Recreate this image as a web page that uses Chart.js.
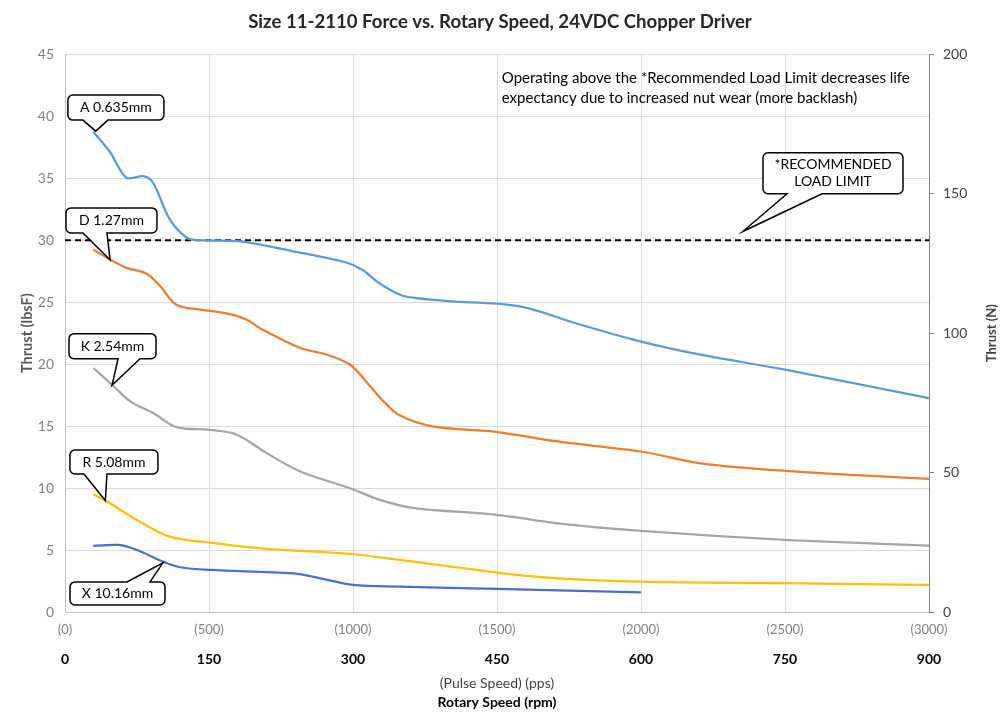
<!DOCTYPE html>
<html>
<head>
<meta charset="utf-8">
<script src="https://cdn.jsdelivr.net/npm/chart.js@4"></script>
<style>
  body { margin: 0; background: #fff; }
  #wrap { width: 1000px; height: 722px; }
</style>
</head>
<body>
<div id="wrap"><canvas id="chart" width="1000" height="722"></canvas></div>
<script>
// series, rotary speed (rpm) vs thrust (lbf)
const rpmA = [29.5, 47, 64, 82, 92, 109, 127, 141, 182, 238, 293, 310, 327, 349, 364, 402, 450, 483, 532, 599, 662, 750, 900];
const thrustA = [38.75, 37.1, 35.04, 35.17, 34.6, 31.7, 30.2, 30.0, 29.9, 29.1, 28.2, 27.6, 26.55, 25.6, 25.34, 25.07, 24.88, 24.5, 23.3, 21.84, 20.76, 19.55, 17.26];

const rpmD = [29.5, 47, 64, 85, 99, 116, 141, 168, 189, 203, 245, 273, 297, 318, 333, 349, 383, 450, 513, 600, 662, 750, 900];
const thrustD = [29.25, 28.44, 27.77, 27.3, 26.3, 24.8, 24.4, 24.1, 23.6, 22.9, 21.3, 20.76, 19.95, 18.2, 16.9, 15.85, 14.97, 14.52, 13.76, 12.95, 12.0, 11.39, 10.74];

const rpmK = [29.5, 49, 68, 92, 116, 151, 179, 210, 245, 297, 328, 364, 450, 513, 600, 750, 900];
const thrustK = [19.69, 18.34, 17.0, 16.05, 14.92, 14.7, 14.3, 12.82, 11.34, 9.99, 9.05, 8.38, 7.84, 7.16, 6.54, 5.82, 5.36];

const rpmR = [29.5, 42, 75, 109, 151, 203, 300, 349, 450, 513, 600, 750, 900];
const thrustR = [9.5, 9.0, 7.43, 6.08, 5.6, 5.14, 4.66, 4.2, 3.18, 2.72, 2.45, 2.32, 2.18];

const rpmX = [29.5, 55.5, 75, 102, 120, 151, 238, 266, 300, 349, 450, 600];
const thrustX = [5.33, 5.41, 5.0, 4.07, 3.61, 3.39, 3.12, 2.72, 2.18, 2.05, 1.86, 1.59];

const limitRpm = [0, 900];
const limitThrust = [30, 30];

const seriesNames = ['A 0.635mm', 'D 1.27mm', 'K 2.54mm', 'R 5.08mm', 'X 10.16mm'];
const seriesColors = ['#5B9BD5', '#ED7D31', '#A5A5A5', '#FFC000', '#4472C4'];

// axis ticks
const rpmTicks = [0, 150, 300, 450, 600, 750, 900];
const ppsTicks = [0, 500, 1000, 1500, 2000, 2500, 3000];
const lbfTicks = [0, 5, 10, 15, 20, 25, 30, 35, 40, 45];
const newtonTicks = [0, 50, 100, 150, 200];

const noteLines = ['Operating above the *Recommended Load Limit decreases life',
  'expectancy due to increased nut wear (more backlash)'];

// callouts: box centre and pointer tip in data units (rpm, lbf)
const callouts = [
  { lines: ['A 0.635mm'], at: [53, 40.7], w: 96, h: 25, side: 'bottom', base: [-33, -8], tip: [32, 38.8] },
  { lines: ['D 1.27mm'], at: [48.4, 31.6], w: 91, h: 25, side: 'bottom', base: [-28.5, -4.5], tip: [47, 28.4] },
  { lines: ['K 2.54mm'], at: [49.5, 21.45], w: 87, h: 25, side: 'bottom', base: [5.5, 27.5], tip: [49, 18.3] },
  { lines: ['R 5.08mm'], at: [51, 12.1], w: 88, h: 24, side: 'bottom', base: [-30, -7], tip: [42, 9.0] },
  { lines: ['X 10.16mm'], at: [54.7, 1.5], w: 95, h: 23, side: 'top', base: [9.5, 32.5], tip: [102, 3.96] },
  { lines: ['*RECOMMENDED', 'LOAD LIMIT'], at: [800, 35.4], w: 140, h: 41, side: 'bottom', base: [-46, -11], tip: [706, 30.7] }
];

const toPoints = (xs, ys) => xs.map((x, i) => ({ x: x, y: ys[i] }));

const FONT = 'Lato, "Open Sans", sans-serif';
Chart.defaults.font.family = FONT;

function bubble(ctx, l, t, w, h, r, side, b0, b1, tx, ty) {
  const rr = l + w, bb = t + h;
  ctx.beginPath();
  ctx.moveTo(l + r, t);
  if (side === 'top') { ctx.lineTo(b0, t); ctx.lineTo(tx, ty); ctx.lineTo(b1, t); }
  ctx.lineTo(rr - r, t);
  ctx.arcTo(rr, t, rr, t + r, r);
  ctx.lineTo(rr, bb - r);
  ctx.arcTo(rr, bb, rr - r, bb, r);
  if (side === 'bottom') { ctx.lineTo(b1, bb); ctx.lineTo(tx, ty); ctx.lineTo(b0, bb); }
  ctx.lineTo(l + r, bb);
  ctx.arcTo(l, bb, l, bb - r, r);
  ctx.lineTo(l, t + r);
  ctx.arcTo(l, t, l + r, t, r);
  ctx.closePath();
  ctx.fillStyle = '#fff';
  ctx.fill();
  ctx.lineWidth = 1.5;
  ctx.strokeStyle = '#000';
  ctx.stroke();
}

const extras = {
  id: 'extras',
  afterDatasetsDraw(chart) {
    const ctx = chart.ctx;
    const xs = chart.scales.x, ys = chart.scales.y;
    ctx.save();
    callouts.forEach(c => {
      const cx = xs.getPixelForValue(c.at[0]);
      const cy = ys.getPixelForValue(c.at[1]);
      const tx = xs.getPixelForValue(c.tip[0]);
      const ty = ys.getPixelForValue(c.tip[1]);
      bubble(ctx, cx - c.w / 2, cy - c.h / 2, c.w, c.h, 5, c.side, cx + c.base[0], cx + c.base[1], tx, ty);
      ctx.fillStyle = '#000';
      ctx.font = '14px ' + FONT;
      ctx.textAlign = 'center';
      ctx.textBaseline = 'middle';
      const lh = 17;
      c.lines.forEach((s, i) => {
        ctx.fillText(s, cx, cy + (i - (c.lines.length - 1) / 2) * lh);
      });
    });
    // note text
    ctx.font = '15px ' + FONT;
    ctx.textAlign = 'left';
    ctx.textBaseline = 'middle';
    ctx.fillStyle = '#000';
    const nx = xs.getPixelForValue(455);
    const ny = ys.getPixelForValue(43.1);
    noteLines.forEach((s, i) => ctx.fillText(s, nx, ny + i * 20));
    // right axis title, reading upward
    ctx.translate(chart.scales.y2.right - 8, (chart.chartArea.top + chart.chartArea.bottom) / 2);
    ctx.rotate(-Math.PI / 2);
    ctx.font = 'bold 13px ' + FONT;
    ctx.textAlign = 'center';
    ctx.fillStyle = '#404040';
    ctx.fillText('Thrust (N)', 0, 0);
    ctx.restore();
  }
};

const datasets = [
  [rpmA, thrustA], [rpmD, thrustD], [rpmK, thrustK], [rpmR, thrustR], [rpmX, thrustX]
].map((s, i) => ({
  label: seriesNames[i],
  data: toPoints(s[0], s[1]),
  borderColor: seriesColors[i],
  backgroundColor: seriesColors[i],
  borderWidth: 2.25,
  pointRadius: 0,
  tension: 0.33,
  xAxisID: 'x',
  yAxisID: 'y'
}));

datasets.push({
  label: 'Recommended Load Limit',
  data: toPoints(limitRpm, limitThrust),
  borderColor: '#000',
  borderWidth: 2,
  borderDash: [6, 4],
  pointRadius: 0,
  xAxisID: 'x',
  yAxisID: 'y'
});

new Chart(document.getElementById('chart'), {
  type: 'line',
  data: { datasets: datasets },
  options: {
    responsive: false,
    animation: false,
    devicePixelRatio: 1,
    layout: { padding: 0 },
    plugins: {
      legend: { display: false },
      tooltip: { enabled: false },
      title: {
        display: true,
        text: 'Size 11-2110 Force vs. Rotary Speed, 24VDC Chopper Driver',
        color: '#262626',
        font: { size: 18.6, weight: 'bold' },
        padding: { top: 11, bottom: 21 }
      }
    },
    scales: {
      pps: {
        type: 'linear',
        position: 'bottom',
        weight: 0,
        min: 0,
        max: 3000,
        afterBuildTicks: s => { s.ticks = ppsTicks.map(v => ({ value: v })); },
        afterFit: s => { s.height = 30; },
        grid: { color: '#d9d9d9', drawTicks: false },
        border: { color: '#bfbfbf' },
        ticks: { color: '#808080', font: { size: 13 }, padding: 10, callback: v => '(' + v + ')' }
      },
      x: {
        type: 'linear',
        position: 'bottom',
        weight: 1,
        min: 0,
        max: 900,
        afterBuildTicks: s => { s.ticks = rpmTicks.map(v => ({ value: v })); },
        afterFit: s => { s.height = 50; },
        grid: { display: false },
        border: { display: false },
        ticks: { color: '#000', font: { size: 14, weight: 'bold' }, padding: 1 },
        title: { display: true, text: '(Pulse Speed) (pps)', color: '#404040', font: { size: 14 }, padding: { top: 0, bottom: 0 } }
      },
      xt: {
        type: 'linear',
        position: 'bottom',
        weight: 2,
        min: 0,
        max: 1,
        afterFit: s => { s.height = 30; },
        grid: { display: false },
        border: { display: false },
        ticks: { display: false },
        title: { display: true, text: 'Rotary Speed (rpm)', color: '#000', font: { size: 14, weight: 'bold' }, padding: { top: 0, bottom: 11 } }
      },
      y: {
        type: 'linear',
        position: 'left',
        min: 0,
        max: 45,
        afterBuildTicks: s => { s.ticks = lbfTicks.map(v => ({ value: v })); },
        afterFit: s => { s.width = 65; },
        grid: { color: '#d9d9d9', drawTicks: false },
        border: { color: '#bfbfbf' },
        ticks: { color: '#808080', font: { size: 14 }, padding: 11 },
        title: { display: true, text: 'Thrust (lbsF)', color: '#595959', font: { size: 14.5, weight: 'bold' }, padding: { top: 19, bottom: 0 } }
      },
      y2: {
        type: 'linear',
        position: 'right',
        min: 0,
        max: 200,
        afterBuildTicks: s => { s.ticks = newtonTicks.map(v => ({ value: v })); },
        afterFit: s => { s.width = 71; },
        grid: { drawOnChartArea: false, drawTicks: true, tickLength: 5, color: '#808080' },
        border: { color: '#808080' },
        ticks: { color: '#404040', font: { size: 14 }, padding: 9 }
      }
    }
  },
  plugins: [extras]
});
</script>
</body>
</html>
